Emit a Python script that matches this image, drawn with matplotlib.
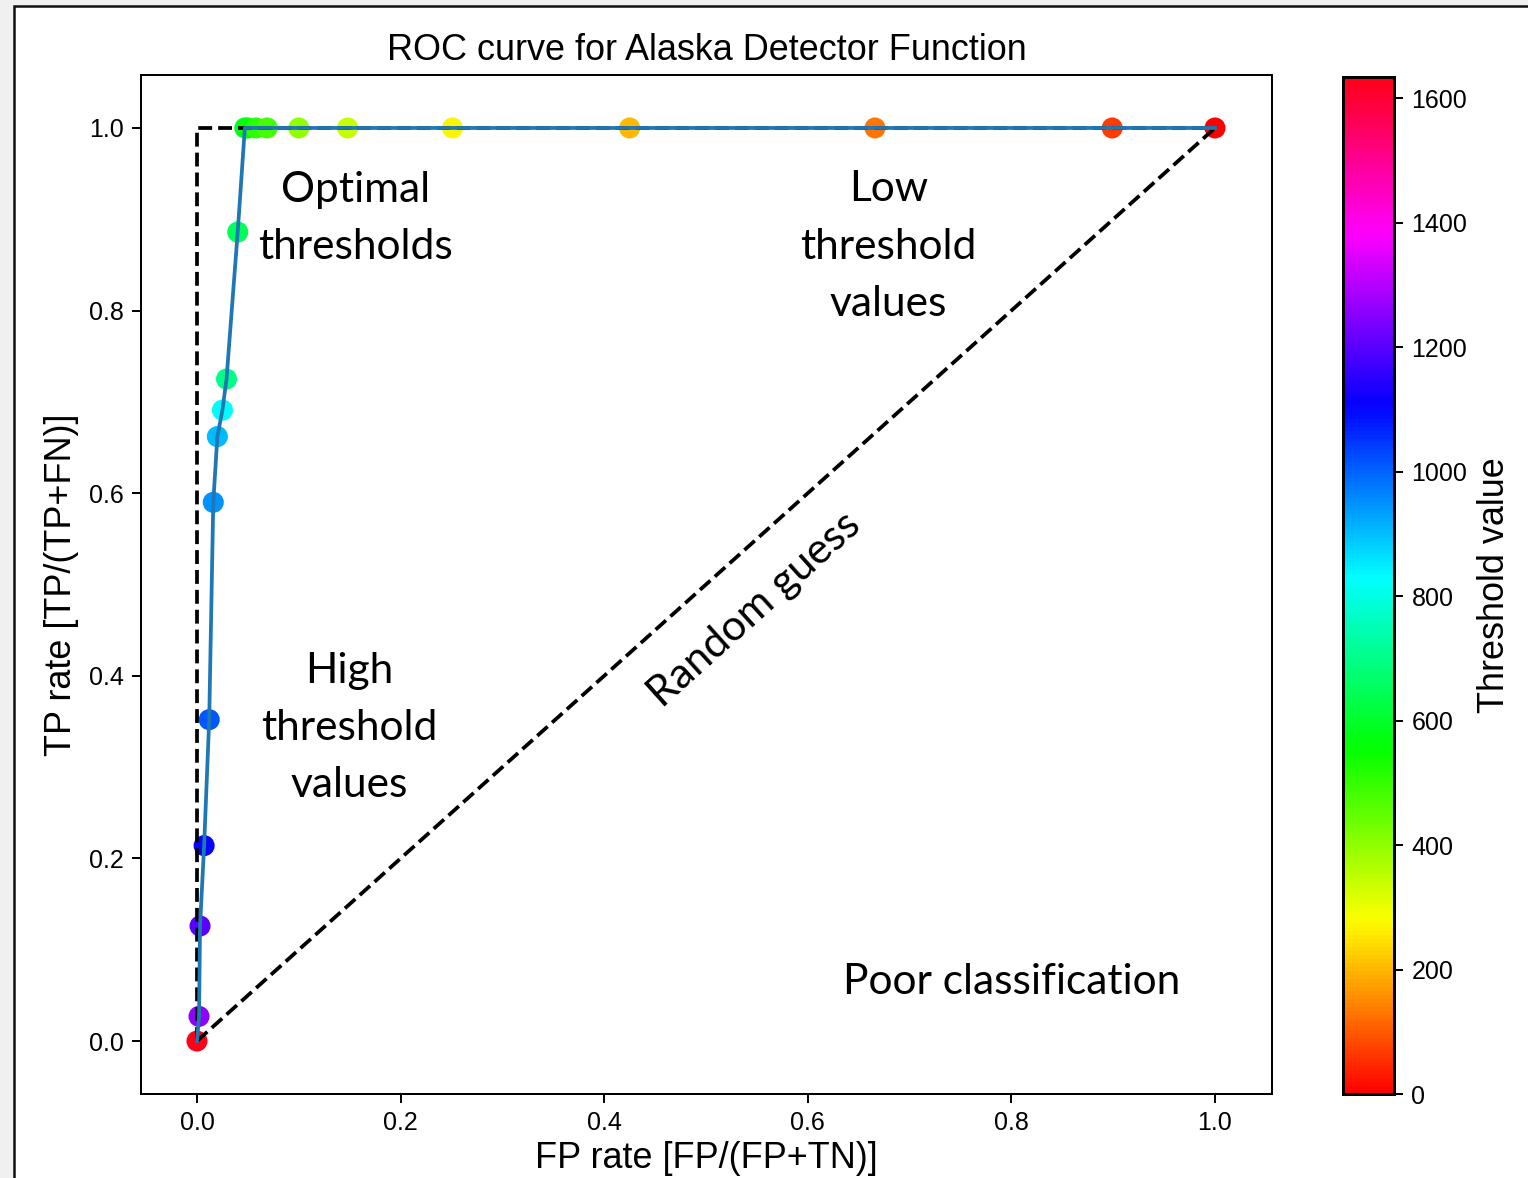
import matplotlib
matplotlib.use('Agg')
import matplotlib.pyplot as plt
from matplotlib.patches import Rectangle
import numpy as np

# ROC points of the detector, ordered from the highest threshold to the lowest
fp_rate = [0.000, 0.002, 0.003, 0.007, 0.012, 0.016, 0.020, 0.025, 0.029, 0.040,
           0.047, 0.050, 0.058, 0.069, 0.100, 0.148, 0.251, 0.425, 0.666, 0.899, 1.000]
tp_rate = [0.000, 0.027, 0.126, 0.214, 0.352, 0.590, 0.662, 0.691, 0.725, 0.886,
           1.000, 1.000, 1.000, 1.000, 1.000, 1.000, 1.000, 1.000, 1.000, 1.000, 1.000]
thresholds = [1634, 1260, 1200, 1110, 1010, 950, 900, 830, 700, 650,
              590, 560, 510, 480, 400, 340, 270, 200, 130, 70, 0]

# perfect classifier and random guess references
perfect_x = [0, 0, 1]
perfect_y = [0, 1, 1]
random_x = [0, 1]
random_y = [0, 1]

DPI = 180
fig = plt.figure(figsize=(1529 / DPI, 1178 / DPI), dpi=DPI)
fig.patch.set_facecolor('#f0f0f0')
plt.rcParams['font.family'] = ['Liberation Sans', 'DejaVu Sans']

# white window frame
frame = Rectangle((14 / 1529, -0.01), 1.1, 1 - 6 / 1178 + 0.01, transform=fig.transFigure,
                  facecolor='white', edgecolor='#111111', linewidth=1.0, zorder=-10)
fig.patches.append(frame)

ax = fig.add_axes([141 / 1529, 1 - 1094 / 1178, 1131 / 1529, 1019 / 1178])
cax = fig.add_axes([1343 / 1529, 1 - 1094 / 1178, 51 / 1529, 1017 / 1178])

sc = ax.scatter(fp_rate, tp_rate, c=thresholds, cmap='hsv', s=55,
                vmin=min(thresholds), vmax=max(thresholds))
ax.plot(perfect_x, perfect_y, 'k--')
ax.plot(random_x, random_y, 'k--')
ax.plot(fp_rate, tp_rate, color='#1f77b4')

ax.set_xlim(-0.055, 1.056)
ax.set_ylim(-0.058, 1.058)
ax.set_xticks(np.arange(0, 1.01, 0.2))
ax.set_yticks(np.arange(0, 1.01, 0.2))
ax.tick_params(labelsize=10)
ax.set_title('ROC curve for Alaska Detector Function', fontsize=14.4)
ax.set_xlabel('FP rate [FP/(FP+TN)]', fontsize=14.4, labelpad=2)
ax.set_ylabel('TP rate [TP/(TP+FN)]', fontsize=14.4)

cb = fig.colorbar(sc, cax=cax)
cb.set_ticks(np.arange(0, 1601, 200))
cb.ax.tick_params(labelsize=10)
cb.outline.set_linewidth(1.2)
cb.set_label('Threshold value', fontsize=14.4)

note_font = ['Lato', 'DejaVu Sans']
note_kw = dict(ha='center', va='center', fontsize=17, family=note_font, linespacing=1.62)
ax.text(0.156, 0.901, 'Optimal\nthresholds', **note_kw)
ax.text(0.679, 0.87, 'Low\nthreshold\nvalues', **note_kw)
ax.text(0.150, 0.343, 'High\nthreshold\nvalues', **note_kw)
ax.text(0.800, 0.065, 'Poor classification', **note_kw)
ax.text(0.548, 0.472, 'Random guess', rotation=42, rotation_mode='anchor', **note_kw)

fig.savefig('out.png', dpi=DPI, facecolor=fig.get_facecolor())
